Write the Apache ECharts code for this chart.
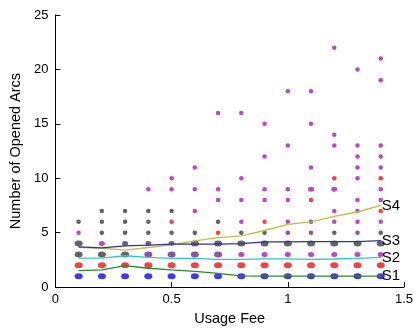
<!DOCTYPE html>
<html>
<head>
<meta charset="utf-8">
<script src="https://cdn.jsdelivr.net/npm/echarts@6/dist/echarts.min.js"></script>
<style>
  html, body { margin: 0; padding: 0; background: #fff; }
  #chart { width: 418px; height: 331px; }
</style>
</head>
<body>
<div id="chart"></div>
<script>
// Usage fee levels (x) shared by the four trend lines
const fees = [0.1, 0.2, 0.3, 0.4, 0.5, 0.6, 0.7, 0.8, 0.9, 1.0, 1.1, 1.2, 1.3, 1.4];

// Trend lines: number of opened arcs per scenario
const s1 = [1.52, 1.58, 1.97, 1.73, 1.58, 1.45, 1.27, 1.03, 1.0, 1.0, 1.0, 1.0, 1.0, 1.0];
const s2 = [2.67, 2.67, 2.88, 2.73, 2.64, 2.64, 2.55, 2.55, 2.6, 2.6, 2.55, 2.58, 2.64, 2.73];
const s3 = [3.7, 3.6, 3.79, 3.85, 3.94, 3.94, 3.94, 4.0, 4.15, 4.15, 4.18, 4.18, 4.18, 4.27];
const s4 = [3.65, 3.57, 3.39, 3.64, 3.88, 4.24, 4.55, 4.7, 5.2, 5.76, 6.0, 6.5, 6.9, 7.5];

// Observed solutions as [fee, arcs], grouped by marker style
const blueBig = fees.map(f => [f, 1]);
const redBig = fees.map(f => [f, 2]);
const darkBig = [[0.1,3],[0.2,3],[0.3,3],[0.1,4],[0.6,4],[0.7,4],[0.8,4],[0.9,4],[1.0,4],[1.1,4],[1.2,4],[1.3,4],[1.4,4]];
const darkMid = [[0.3,4],[0.4,4],[0.5,4]];
const purpleBig = [[0.4,3],[0.5,3],[0.6,3],[0.7,3]];
const magentaMid = [[0.2,4],[0.8,3],[0.9,3],[1.0,3],[1.1,3],[1.2,3],[1.3,3],[1.4,3],[1.1,9],[1.2,9]];
const darkSmall = [[0.1,6],[0.2,7],[0.2,6],[0.2,5],[0.3,7],[0.3,6],[0.3,5],[0.4,7],[0.4,6],[0.4,5],
  [0.5,7],[0.5,5],[0.6,5],[0.7,6],[0.8,5],[0.9,5],[1.2,5],[1.4,5]];
const purpleSmall = [[1.0,5],[1.1,6],[1.1,5],[1.3,5]];
const redSmall = [[0.5,6],[0.7,5],[0.9,6],[1.1,8],[1.2,10],[1.4,10],[1.4,7]];
const magentaSmall = [[0.1,5],[0.4,9],[0.5,10],[0.5,9],[0.6,11],[0.6,9],[0.6,7],
  [0.7,16],[0.7,9],[0.7,8],[0.8,16],[0.8,10],[0.8,8],[0.8,6],
  [0.9,15],[0.9,12],[0.9,9],[0.9,8],[1.0,18],[1.0,13],[1.0,9],[1.0,8],[1.0,6],
  [1.1,18],[1.1,15],[1.1,11],[1.2,22],[1.2,14],[1.2,13],[1.2,7],[1.2,6],
  [1.3,20],[1.3,13],[1.3,12],[1.3,11],[1.3,10],[1.3,8],[1.3,7],[1.3,6],
  [1.4,21],[1.4,19],[1.4,13],[1.4,12],[1.4,11],[1.4,9],[1.4,8],[1.4,6]];

// Axis ticks
const xTicks = [0, 0.5, 1, 1.5];
const yTicks = [0, 5, 10, 15, 20, 25];

const FONT = '"Liberation Sans", Arial, sans-serif';

function dots(data, color, size) {
  return {
    type: 'scatter', data: data, symbol: 'circle', symbolSize: size,
    itemStyle: { color: color }, silent: true, z: 2
  };
}

function trend(name, values, color, width) {
  return {
    name: name, type: 'line', data: fees.map((f, i) => [f, values[i]]),
    showSymbol: false, symbol: 'none', silent: true, z: 3,
    lineStyle: { color: color, width: width },
    endLabel: {
      show: true, formatter: '{a}', color: '#000', fontFamily: FONT,
      fontSize: 15, distance: 0, offset: [1, 0]
    }
  };
}

const chart = echarts.init(document.getElementById('chart'), null, { renderer: 'canvas' });
chart.setOption({
  animation: false,
  backgroundColor: '#fff',
  grid: { left: 51, right: 14, top: 15, bottom: 41, containLabel: false },
  xAxis: {
    type: 'value', min: xTicks[0], max: xTicks[xTicks.length - 1], interval: 0.5,
    name: 'Usage Fee', nameLocation: 'middle', nameGap: 23,
    nameTextStyle: { fontFamily: FONT, fontSize: 14.5, color: '#000' },
    axisLine: { show: true, onZero: false, lineStyle: { color: '#000', width: 1 } },
    axisTick: { show: true, inside: true, length: 5, lineStyle: { color: '#000' } },
    axisLabel: {
      fontFamily: FONT, fontSize: 13, color: '#000', margin: 6,
      formatter: v => String(v)
    },
    splitLine: { show: false }
  },
  yAxis: {
    type: 'value', min: yTicks[0], max: yTicks[yTicks.length - 1], interval: 5,
    name: 'Number of Opened Arcs', nameLocation: 'middle', nameGap: 25,
    nameTextStyle: { fontFamily: FONT, fontSize: 14.5, color: '#000' },
    axisLine: { show: true, onZero: false, lineStyle: { color: '#000', width: 1 } },
    axisTick: { show: true, inside: true, length: 5, lineStyle: { color: '#000' } },
    axisLabel: { fontFamily: FONT, fontSize: 13, color: '#000', margin: 7 },
    splitLine: { show: false }
  },
  series: [
    dots(blueBig, '#0a0ae6', [8, 6]),
    dots(redBig, '#f01414', [8, 6]),
    dots(darkBig, '#3c3c44', [8, 6]),
    dots(darkMid, '#3c3c44', [6, 5]),
    dots(purpleBig, '#6a2a8a', [8, 6]),
    dots(magentaMid, '#a81cb8', [6, 5]),
    dots(darkSmall, '#3c3c44', 4.5),
    dots(purpleSmall, '#6a2a8a', 4.5),
    dots(redSmall, '#f01414', 4.5),
    dots(magentaSmall, '#a81cb8', 4.5),
    trend('S4', s4, '#c0c048', 1.3),
    trend('S3', s3, '#3030a8', 1.3),
    trend('S2', s2, '#30c8c8', 1.3),
    trend('S1', s1, '#2a8a2a', 1.3)
  ]
});
</script>
</body>
</html>
